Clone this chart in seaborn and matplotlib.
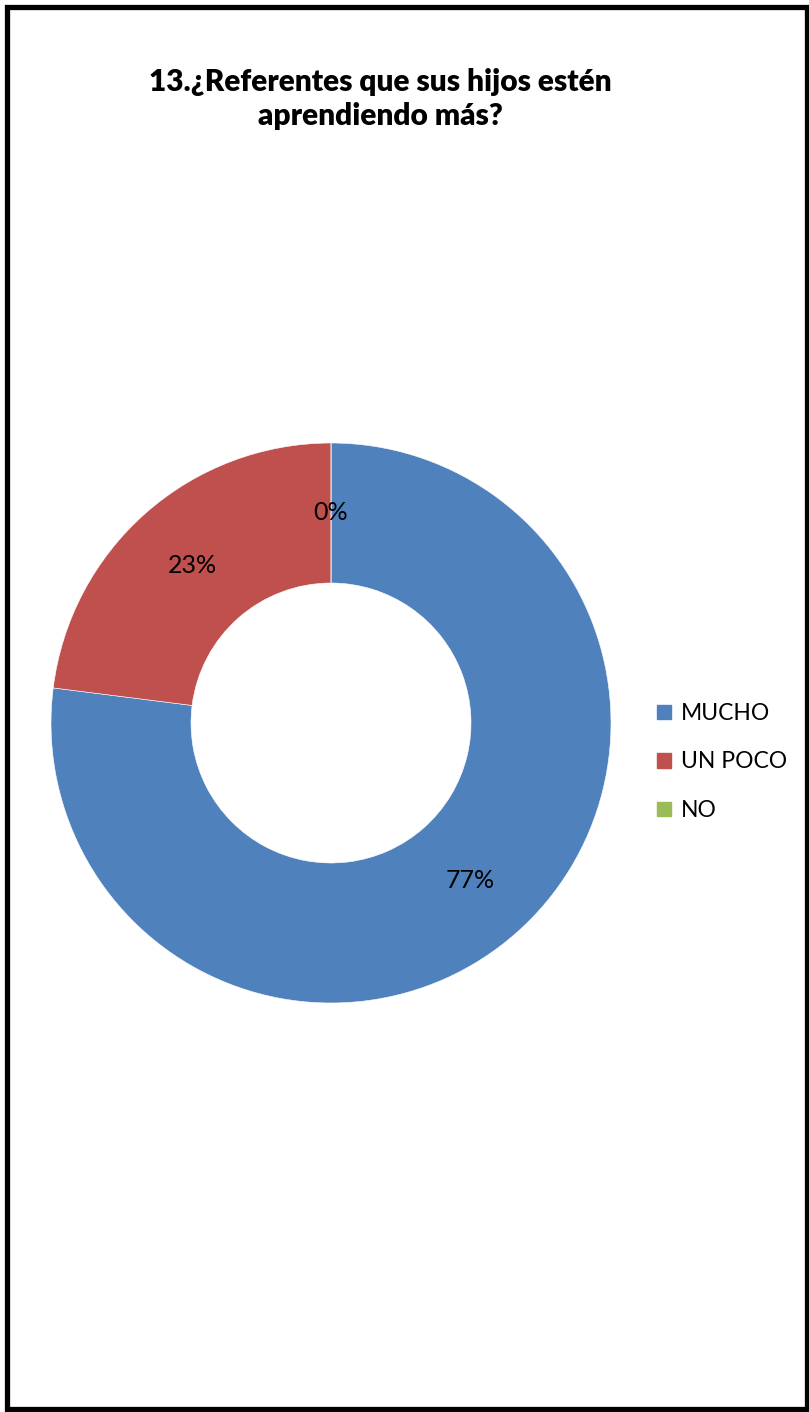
import matplotlib
matplotlib.use('Agg')
import matplotlib.pyplot as plt
import matplotlib.patches as mpatches
import numpy as np
import seaborn as sns

# datos del grafico
categorias = ['MUCHO', 'UN POCO', 'NO']
valores = [77, 23, 0]
etiquetas = ['77%', '23%', '0%']
titulo = '13.¿Referentes que sus hijos estén\naprendiendo más?'

sns.set_theme(style='white')
plt.rcParams['font.family'] = ['Lato', 'DejaVu Sans']
plt.rcParams['text.color'] = 'black'

colores = ['#4F81BD', '#C0504D', '#9BBB59']

W, H = 809, 1412
fig = plt.figure(figsize=(W / 100, H / 100), dpi=100)
fig.patch.set_facecolor('white')

# ejes del anillo en pixeles: centro (331, 723), radio 280
cx, cy, r = 331, 723, 280
ax = fig.add_axes([(cx - r) / W, (H - cy - r) / H, 2 * r / W, 2 * r / H])
wedges, textos = ax.pie(valores, colors=colores, startangle=90, counterclock=False,
                        radius=1, wedgeprops=dict(width=0.5, edgecolor='white', linewidth=0.4))
ax.set_xlim(-1, 1)
ax.set_ylim(-1, 1)
ax.axis('off')

# etiquetas de porcentaje en el centro del anillo
acum = np.cumsum([0] + valores[:-1])
for v, a0, txt in zip(valores, acum, etiquetas):
    ang = np.deg2rad(90 - (a0 + v / 2) * 3.6)
    ax.text(0.75 * np.cos(ang), 0.75 * np.sin(ang), txt, ha='center', va='center',
            fontsize=18, color='black')

fig.text(380 / W, 1 - 99 / H, titulo, ha='center', va='center', fontsize=21.5,
         fontweight='heavy', linespacing=1.3, color='black')

handles = [mpatches.Patch(color=c, label=l) for c, l in zip(colores, categorias)]
leg = fig.legend(handles=handles, loc='center left', bbox_to_anchor=(636 / W, 1 - 762 / H),
                 frameon=False, fontsize=16.5, handlelength=0.62, handleheight=0.62,
                 handletextpad=0.45, labelspacing=1.2)
for t in leg.get_texts():
    t.set_color('black')

# marco negro
fig.add_artist(mpatches.Rectangle((6.5 / W, 1 - 1408.5 / H), 800 / W, 1402 / H,
                                  transform=fig.transFigure, fill=False,
                                  edgecolor='black', linewidth=3.8))

fig.savefig('out.png', dpi=100)
